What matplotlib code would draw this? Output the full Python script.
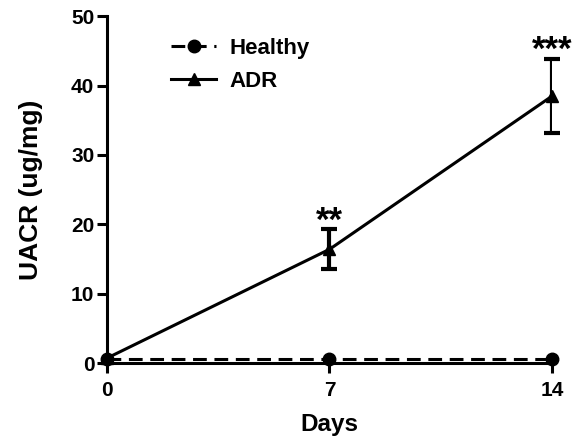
import matplotlib
matplotlib.use("Agg")
import matplotlib.pyplot as plt

days = [0, 7, 14]
healthy = [0.6, 0.6, 0.6]
adr = [0.7, 16.4, 38.5]
adr_err = [0.0, 2.9, 5.35]
stars = ["", "**", "***"]

plt.rcParams['font.family'] = ['Liberation Sans', 'DejaVu Sans']
plt.rcParams['font.weight'] = 'bold'

fig = plt.figure(figsize=(5.74, 4.38), dpi=100)
ax = fig.add_axes([0.186, 0.171, 0.776, 0.792])

ax.plot(days, healthy, color='black', lw=2.2, ls=(0, (4.5, 2.5)), marker='o',
        ms=9, label='Healthy', zorder=3)
ax.plot(days, adr, color='black', lw=2.2, marker='^', ms=8, label='ADR',
        zorder=3)
# only draw bars where there is an error (no cap on the day 0 point)
ex = [d for d, e in zip(days, adr_err) if e > 0]
ey = [v for v, e in zip(adr, adr_err) if e > 0]
ee = [e for e in adr_err if e > 0]
ax.errorbar(ex, ey, yerr=ee, fmt='none', ecolor='black',
            elinewidth=3, capsize=5.5, capthick=3, zorder=3)

for x, y, e, s in zip(days, adr, adr_err, stars):
    if s:
        ax.text(x, y + e - 1.2, s, ha='center', va='bottom', fontsize=25,
                fontweight='bold')

ax.set_xlim(0, 14)
ax.set_ylim(0, 50)
ax.set_xticks(days)
ax.set_yticks([0, 10, 20, 30, 40, 50])
for side in ['top', 'right']:
    ax.spines[side].set_visible(False)
for side in ['left', 'bottom']:
    ax.spines[side].set_linewidth(2.2)
ax.tick_params(direction='out', width=2.2, length=7, labelsize=15, pad=2)
ax.tick_params(axis='x', pad=6)
ax.set_xlabel('Days', fontsize=17.5, fontweight='bold', labelpad=9)
ax.set_ylabel('UACR (ug/mg)', fontsize=19, fontweight='bold', labelpad=20)
for lab in ax.get_xticklabels() + ax.get_yticklabels():
    lab.set_fontweight('bold')

for line in ax.get_lines():
    line.set_clip_on(False)

ax.legend(loc='upper left', bbox_to_anchor=(0.1, 0.995), frameon=False,
          handlelength=2.0, handletextpad=0.6, labelspacing=0.55,
          prop={'weight': 'bold', 'size': 16})

fig.savefig('out.png', dpi=100)
